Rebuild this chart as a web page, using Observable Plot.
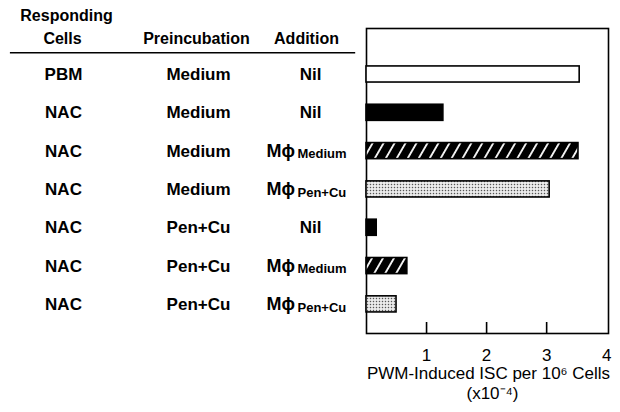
<!DOCTYPE html>
<html>
<head>
<meta charset="utf-8">
<script src="https://cdn.jsdelivr.net/npm/d3@7"></script>
<script src="https://cdn.jsdelivr.net/npm/@observablehq/plot@0.6"></script>
<style>
  html, body { margin: 0; padding: 0; background: #fff; }
  #chart svg { display: block; }
</style>
</head>
<body>
<svg width="0" height="0" style="position:absolute">
  <defs>
    <pattern id="hatch" patternUnits="userSpaceOnUse" width="9.5" height="9.5" patternTransform="rotate(30)">
      <rect width="9.5" height="9.5" fill="#000"></rect>
      <line x1="4.75" y1="-1" x2="4.75" y2="11" stroke="#fff" stroke-width="1.8"></line>
    </pattern>
    <pattern id="dots" patternUnits="userSpaceOnUse" width="3" height="3">
      <rect width="3" height="3" fill="#f2f2f2"></rect>
      <rect x="0.8" y="0.8" width="1.4" height="1.4" fill="#555"></rect>
    </pattern>
  </defs>
</svg>
<div id="chart"></div>
<script>
// ---- data ----
const responding    = ["PBM", "NAC", "NAC", "NAC", "NAC", "NAC", "NAC"];
const preincubation = ["Medium", "Medium", "Medium", "Medium", "Pen+Cu", "Pen+Cu", "Pen+Cu"];
const additionMain  = ["Nil", "Nil", "M\u03D5", "M\u03D5", "Nil", "M\u03D5", "M\u03D5"];
const additionSub   = ["", "", "Medium", "Pen+Cu", "", "Medium", "Pen+Cu"];
const iscValues     = [3.55, 1.28, 3.53, 3.05, 0.17, 0.68, 0.50];
const barFills      = ["white", "black", "url(#hatch)", "url(#dots)", "black", "url(#hatch)", "url(#dots)"];
const xTicks        = [1, 2, 3, 4];
const headers = [
  {text: "Responding", dx: -300, dy: -13},
  {text: "Cells", dx: -304, dy: 10},
  {text: "Preincubation", dx: -170, dy: 10},
  {text: "Addition", dx: -60, dy: 10}
];

const rows = iscValues.map((v, i) => ({
  row: i,
  value: v,
  fill: barFills[i],
  responding: responding[i],
  preincubation: preincubation[i],
  main: additionMain[i],
  sub: additionSub[i]
}));

const barHalf = 0.21;
const headerRuleRow = -0.57;
const font = "'Liberation Sans', Arial, sans-serif";

const chart = Plot.plot({
  width: 620,
  height: 412,
  marginLeft: 366,
  marginRight: 12,
  marginTop: 28,
  marginBottom: 79,
  style: {fontFamily: font, color: "#000", background: "#fff"},
  x: {domain: [0, 4.03], axis: null},
  y: {domain: [-1.2, 6.76], reverse: true, axis: null},
  color: {type: "identity"},
  marks: [
    Plot.frame({stroke: "#000", strokeWidth: 1.6}),
    // inward tick marks
    Plot.axisX({ticks: [1, 2, 3], tickSize: 11, dy: -11, tickFormat: () => "", label: null, strokeWidth: 1.6}),
    // tick labels
    Plot.axisX({ticks: xTicks, tickSize: 0, tickPadding: 15, label: null, fontSize: 17, tickFormat: d3.format("d")}),
    // bars
    Plot.rectX(rows, {
      x1: 0, x2: "value",
      y1: d => d.row - barHalf, y2: d => d.row + barHalf,
      fill: "fill", stroke: "#000", strokeWidth: 1.6
    }),
    // table header
    ...headers.map(h => Plot.text([h.text], {
      frameAnchor: "top-left", dx: h.dx, dy: h.dy, fontSize: 16, fontWeight: "bold", textAnchor: "middle", lineAnchor: "middle"
    })),
    Plot.ruleY([headerRuleRow], {x1: -5.93, x2: -0.18, stroke: "#000", strokeWidth: 1.5}),
    // table columns
    Plot.text(rows, {y: "row", text: "responding", frameAnchor: "left", dx: -303, fontSize: 17, fontWeight: "bold", textAnchor: "middle"}),
    Plot.text(rows, {y: "row", text: "preincubation", frameAnchor: "left", dx: -168, fontSize: 17, fontWeight: "bold", textAnchor: "middle"}),
    Plot.text(rows.filter(d => d.sub === ""), {y: "row", text: "main", frameAnchor: "left", dx: -56, fontSize: 17, fontWeight: "bold", textAnchor: "middle"}),
    Plot.text(rows.filter(d => d.sub !== ""), {y: "row", text: "main", frameAnchor: "left", dx: -100, fontSize: 18, fontWeight: "bold", textAnchor: "start"}),
    Plot.text(rows.filter(d => d.sub !== ""), {y: "row", text: "sub", frameAnchor: "left", dx: -69, dy: 3, fontSize: 13, fontWeight: "bold", textAnchor: "start"}),
    // axis title
    Plot.text(["PWM-Induced ISC per 10\u2076 Cells"], {frameAnchor: "bottom", dx: 1, dy: 45, fontSize: 17, fontWeight: 500}),
    Plot.text(["(x10\u207B\u2074)"], {frameAnchor: "bottom", dx: 5, dy: 65, fontSize: 17, fontWeight: 500})
  ]
});

document.getElementById("chart").appendChild(chart);
</script>
</body>
</html>
